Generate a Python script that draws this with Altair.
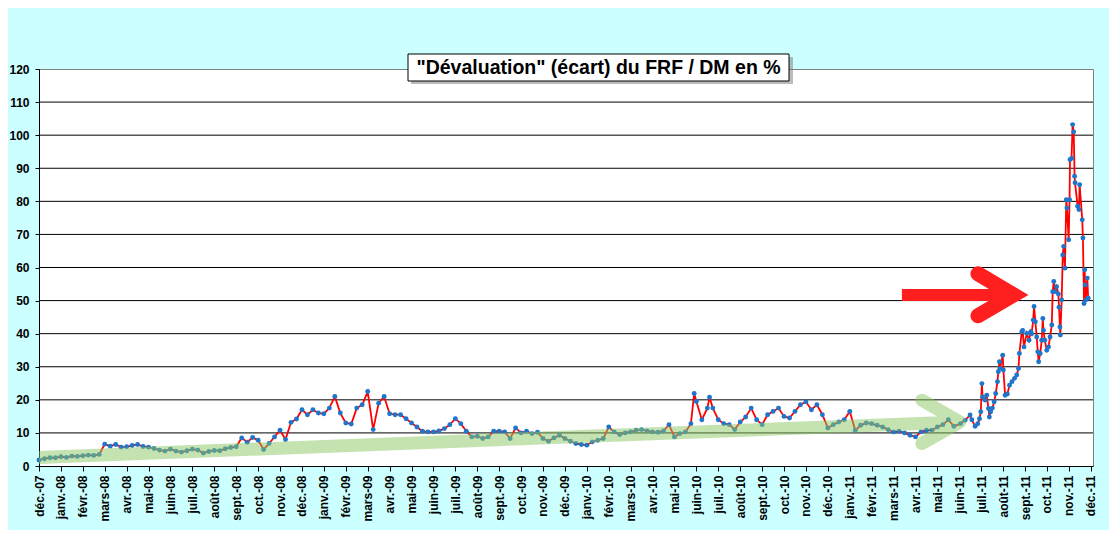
import json
import altair as alt
import pandas as pd

FONT = "Liberation Sans, Arial, sans-serif"

title_text = '"Dévaluation" (écart) du FRF / DM en %'

month_names = ["janv.", "févr.", "mars", "avr.", "mai", "juin", "juil.",
               "août", "sept.", "oct.", "nov.", "déc."]
tick_labels = ["déc.-07"] + [f"{n}-{yy}" for yy in ["08", "09", "10", "11"] for n in month_names]

# weekly readings (4 per month), déc.-07 .. nov.-08
weekly_2008 = [1.8, 2.2, 2.5, 2.5, 2.8, 2.6, 3.0, 2.9, 3.1, 3.3, 3.2, 3.5,
               6.6, 6.0, 6.5, 5.7, 5.8, 6.2, 6.5, 5.9, 5.7, 5.3, 4.8, 4.5,
               5.1, 4.5, 4.2, 4.6, 5.1, 4.8, 3.9, 4.4, 4.7, 4.6, 5.2, 5.6,
               5.8, 8.5, 7.2, 8.6, 7.8, 5.0, 6.8, 8.8, 10.8, 8.0, 13.2, 14.2]
# déc.-08 .. nov.-09
weekly_2009 = [17.0, 15.5, 17.0, 16.0, 15.8, 17.5, 21.0, 16.0, 13.0, 12.7, 17.5, 18.5,
               22.5, 11.0, 19.0, 21.0, 15.8, 15.5, 15.5, 14.3, 13.0, 11.8, 10.5, 10.3,
               10.3, 10.6, 11.3, 12.5, 14.3, 12.8, 10.5, 8.8, 9.0, 8.3, 8.8, 10.5,
               10.5, 10.3, 8.3, 11.5, 10.0, 10.5, 9.8, 10.2, 8.3, 7.5, 8.5, 9.3]
# déc.-09 .. nov.-10
weekly_2010 = [8.3, 7.5, 6.8, 6.5, 6.3, 7.3, 7.8, 8.3, 11.8, 10.3, 9.5, 10.0,
               10.3, 10.8, 11.0, 10.6, 10.3, 10.2, 10.6, 12.5, 8.8, 9.8, 10.3, 12.8,
               19.5, 14.0, 17.5, 17.5, 14.0, 12.8, 12.5, 11.0, 13.3, 14.8, 17.5, 14.0,
               12.5, 15.5, 16.5, 17.5, 15.0, 14.5, 16.5, 18.5, 19.4, 17.0, 18.5, 15.5]
# déc.-10 .. mai-11
weekly_2011 = [11.5, 12.5, 13.3, 14.0, 16.5, 10.8, 12.3, 13.0, 12.8, 12.3, 11.8, 11.0,
               10.3, 10.5, 10.0, 9.3, 8.8, 10.3, 10.8, 10.8, 11.8, 12.5, 14.0, 12.0]

# extra spikes (month index, value)
spike_t = [29.9, 30.6]
spike_v = [21.9, 20.8]

# crisis period, juin-11 .. nov.-11 (month index from déc.-07)
crisis_t = [42.05, 42.26, 42.49, 42.57, 42.72, 42.84, 42.92, 42.98, 43.03, 43.06,
            43.18, 43.25, 43.33, 43.37, 43.43, 43.51, 43.59, 43.66, 43.74, 43.78,
            43.83, 43.86, 43.98, 44.01, 44.09, 44.19, 44.29, 44.40, 44.52, 44.62,
            44.70, 44.74, 44.85, 44.89, 44.95, 45.08, 45.18, 45.26, 45.30, 45.37,
            45.41, 45.47, 45.53, 45.58, 45.62, 45.69, 45.76, 45.81, 45.84, 45.90,
            45.99, 46.07, 46.14, 46.22, 46.26, 46.31, 46.37, 46.44, 46.52, 46.55,
            46.59, 46.61, 46.67, 46.72, 46.76, 46.82, 46.88, 46.91, 46.99, 47.03,
            47.05, 47.12, 47.17, 47.22, 47.26, 47.28, 47.40, 47.46, 47.49, 47.61,
            47.64, 47.69, 47.72, 47.74, 47.77, 47.84, 47.88]
crisis_v = [12.8, 13.8, 15.4, 14.0, 12.0, 12.8, 14.3, 16.4, 24.9, 20.9,
            19.9, 21.4, 17.4, 14.8, 16.4, 17.5, 19.4, 21.9, 25.5, 28.5,
            31.5, 29.5, 33.5, 29.0, 21.4, 21.8, 24.4, 25.5, 26.5, 27.5,
            29.5, 34.0, 40.6, 41.0, 36.0, 40.1, 38.0, 40.6, 40.0, 44.1,
            48.2, 43.6, 39.0, 34.5, 31.5, 34.0, 38.0, 44.6, 41.0, 38.0,
            35.0, 36.0, 39.0, 42.6, 52.7, 55.8, 52.7, 54.2, 52.0, 48.0,
            42.0, 39.6, 50.2, 63.8, 66.4, 59.8, 80.5, 78.0, 68.4, 80.5,
            92.6, 93.0, 103.2, 101.0, 87.6, 85.6, 78.5, 77.5, 85.0, 74.4,
            68.9, 49.1, 59.3, 54.7, 50.2, 56.8, 50.7]

grid_values = [10, 20, 30, 40, 50, 60, 70, 80, 90, 100, 110]
y_ticks = list(range(0, 121, 10))

# green trend arrow (single path: shaft, head)
green_t = [0.0, 42.02, 40.29, 42.02, 40.29]
green_v = [2.6, 13.3, 19.9, 13.3, 6.8]
# red arrow
red_shaft_t = [39.38, 44.3]
red_shaft_v = [51.7, 51.7]
red_head_t = [42.85, 44.48, 42.85]
red_head_v = [58.1, 51.7, 45.4]

weekly = weekly_2008 + weekly_2009 + weekly_2010 + weekly_2011
rows = [(k * 0.25, v) for k, v in enumerate(weekly)]
rows += list(zip(spike_t, spike_v)) + list(zip(crisis_t, crisis_v))
df = pd.DataFrame(rows, columns=["t", "v"]).sort_values("t")

xscale = alt.Scale(domain=[0, 48.1], nice=False, zero=False)
yscale = alt.Scale(domain=[0, 120], nice=False)
label_expr = json.dumps(tick_labels, ensure_ascii=False) + "[datum.value]"

X = alt.X("t:Q", scale=xscale, axis=alt.Axis(
    values=list(range(49)), labelExpr=label_expr, labelAngle=270,
    labelAlign="right", labelBaseline="middle", labelFontSize=12,
    labelFontWeight="bold", labelFont=FONT, labelColor="black",
    tickColor="black", tickSize=5, domainColor="black", grid=False,
    title=None, labelPadding=4, labelOverlap=False, labelFlush=False,
    labelBound=False))
Y = alt.Y("v:Q", scale=yscale, axis=alt.Axis(
    values=y_ticks, labelFontSize=12, labelFontWeight="bold", labelFont=FONT,
    labelColor="black", tickColor="black", tickSize=4, domainColor="black",
    grid=False, title=None, labelPadding=6))

grid = alt.Chart(pd.DataFrame({"v": grid_values})).mark_rule(
    color="black", strokeWidth=1).encode(y=Y)

line = alt.Chart(df).mark_line(color="#FF0000", strokeWidth=1.8).encode(x=X, y=Y)
pts = alt.Chart(df).mark_circle(size=24, color="#1F75C9", opacity=1).encode(x=X, y=Y)

g_df = pd.DataFrame({"t": green_t, "v": green_v, "o": range(len(green_t))})
green = alt.Chart(g_df).mark_line(
    color="#8CC864", strokeWidth=13, strokeCap="round", strokeJoin="round",
    opacity=0.5, clip=True).encode(x=X, y=Y, order="o:Q")

rs_df = pd.DataFrame({"t": red_shaft_t, "v": red_shaft_v, "o": [0, 1]})
red_shaft = alt.Chart(rs_df).mark_line(
    color="#FF1F1F", strokeWidth=12, strokeCap="butt").encode(x=X, y=Y, order="o:Q")
rh_df = pd.DataFrame({"t": red_head_t, "v": red_head_v, "o": [0, 1, 2]})
red_head = alt.Chart(rh_df).mark_line(
    color="#FF1F1F", strokeWidth=15, strokeCap="round", strokeJoin="miter").encode(
    x=X, y=Y, order="o:Q")

tdf = pd.DataFrame({"title": [title_text]})
shadow = alt.Chart(tdf).mark_rect(fill="#777777", opacity=0.5).encode(
    x=alt.value(372), x2=alt.value(754), y=alt.value(-12), y2=alt.value(15))
box = alt.Chart(tdf).mark_rect(fill="white", stroke="black", strokeWidth=1).encode(
    x=alt.value(369), x2=alt.value(750), y=alt.value(-15), y2=alt.value(12))
ttext = alt.Chart(tdf).mark_text(
    font=FONT, fontSize=19.5, fontWeight="bold", color="black",
    align="center", baseline="middle").encode(
    x=alt.value(559.5), y=alt.value(-1), text="title:N")

chart = alt.layer(grid, line, pts, green, red_shaft, red_head, shadow, box, ttext).properties(
    width=1054, height=397,
    background="#CCFFFF",
    autosize=alt.AutoSizeParams(type="none"),
    padding={"left": 31, "top": 61, "right": 16, "bottom": 64},
).configure_view(stroke="#808080", fill="white", strokeWidth=1)

chart.save("out.html", embed_options={"renderer": "svg", "actions": False})
